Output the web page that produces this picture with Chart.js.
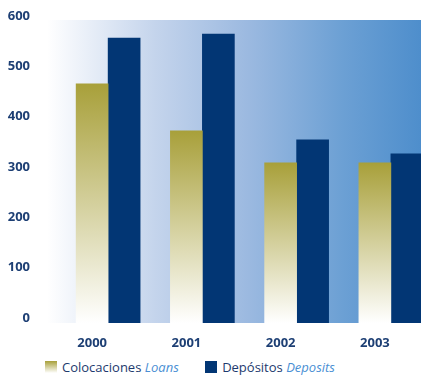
<!DOCTYPE html>
<html>
<head>
<meta charset="utf-8">
<script src="https://cdn.jsdelivr.net/npm/chart.js@4/dist/chart.umd.min.js"></script>
<style>
    html, body { margin: 0; padding: 0; background: #fff; overflow: hidden; }
    #wrap { position: relative; width: 421px; height: 379px; overflow: hidden; }
    #grafico { position: absolute; left: 0; top: 0; }
    #leyenda { position: absolute; left: 45px; top: 358px; font-family: "Open Sans", sans-serif; font-size: 13px; color: #1d3a6e; white-space: nowrap; }
    #leyenda .item { display: inline-block; margin-right: 23px; }
    #leyenda .caja { display: inline-block; width: 12px; height: 12px; vertical-align: -1px; margin-right: 5px; }
    #leyenda em { color: #4a8fd4; }
</style>
</head>
<body>
<div id="wrap">
    <canvas id="grafico" width="440" height="355"></canvas>
    <div id="leyenda">
        <span class="item"><span class="caja" style="background: linear-gradient(#a8a03a, #ffffff);"></span>Colocaciones <em>Loans</em></span>
        <span class="item"><span class="caja" style="background: #023674;"></span>Depósitos <em>Deposits</em></span>
    </div>
</div>
<script>
const anios = ['2000', '2001', '2002', '2003'];
const colocaciones = [475, 382, 318, 318];
const depositos = [566, 574, 364, 336];
const ticksY = [0, 100, 200, 300, 400, 500, 600];

const colorTexto = '#1d3f74';

// fondo degradado detrás del área de barras
const fondoDegradado = {
    id: 'fondoDegradado',
    beforeDraw(chart) {
        const { ctx, chartArea } = chart;
        const x0 = 47, x1 = 421;
        const g = ctx.createLinearGradient(x0, 0, x1, 0);
        g.addColorStop(0, '#ffffff');
        g.addColorStop(0.29, '#c4d4ec');
        g.addColorStop(0.54, '#9bb9e0');
        g.addColorStop(0.79, '#6ca0d4');
        g.addColorStop(1, '#4e8ecc');
        ctx.save();
        ctx.fillStyle = g;
        ctx.fillRect(x0, chartArea.top - 1, x1 - x0, chartArea.bottom - chartArea.top + 1);
        ctx.restore();
    }
};

function degradadoColocaciones(context) {
    const chart = context.chart;
    if (!chart.chartArea || context.raw == null) return '#a8a03a';
    const y = chart.scales.y;
    const top = y.getPixelForValue(context.raw);
    const bottom = y.getPixelForValue(0);
    const g = chart.ctx.createLinearGradient(0, top, 0, bottom);
    g.addColorStop(0, '#a8a03a');
    g.addColorStop(1, '#ffffff');
    return g;
}

new Chart(document.getElementById('grafico'), {
    type: 'bar',
    data: {
        labels: anios,
        datasets: [
            { label: 'Colocaciones Loans', data: colocaciones, backgroundColor: degradadoColocaciones, borderWidth: 0 },
            { label: 'Depósitos Deposits', data: depositos, backgroundColor: '#023674', borderWidth: 0 }
        ]
    },
    options: {
        responsive: false,
        animation: false,
        layout: { padding: { top: 21, right: 2, left: 0, bottom: 0 } },
        datasets: { bar: { barThickness: 32 } },
        plugins: {
            legend: { display: false },
            tooltip: { enabled: false }
        },
        scales: {
            x: {
                grid: { display: false, drawTicks: false },
                border: { display: false },
                ticks: {
                    color: colorTexto,
                    font: { family: 'Open Sans', size: 13, weight: 'bold' },
                    padding: 12,
                    labelOffset: -16
                },
                afterFit(scale) {
                    scale.height = 32;
                    scale.paddingLeft = 0;
                    scale.paddingRight = 0;
                }
            },
            y: {
                min: 0,
                max: 600,
                grid: { display: false, drawTicks: false },
                border: { display: false },
                afterBuildTicks(scale) { scale.ticks = ticksY.map(v => ({ value: v })); },
                ticks: {
                    color: colorTexto,
                    font: { family: 'Open Sans', size: 13, weight: 'bold' },
                    padding: 31,
                    labelOffset: -5
                },
                afterFit(scale) {
                    scale.width = 61;
                    scale.paddingTop = 0;
                    scale.paddingBottom = 0;
                }
            }
        }
    },
    plugins: [fondoDegradado]
});
</script>
</body>
</html>
